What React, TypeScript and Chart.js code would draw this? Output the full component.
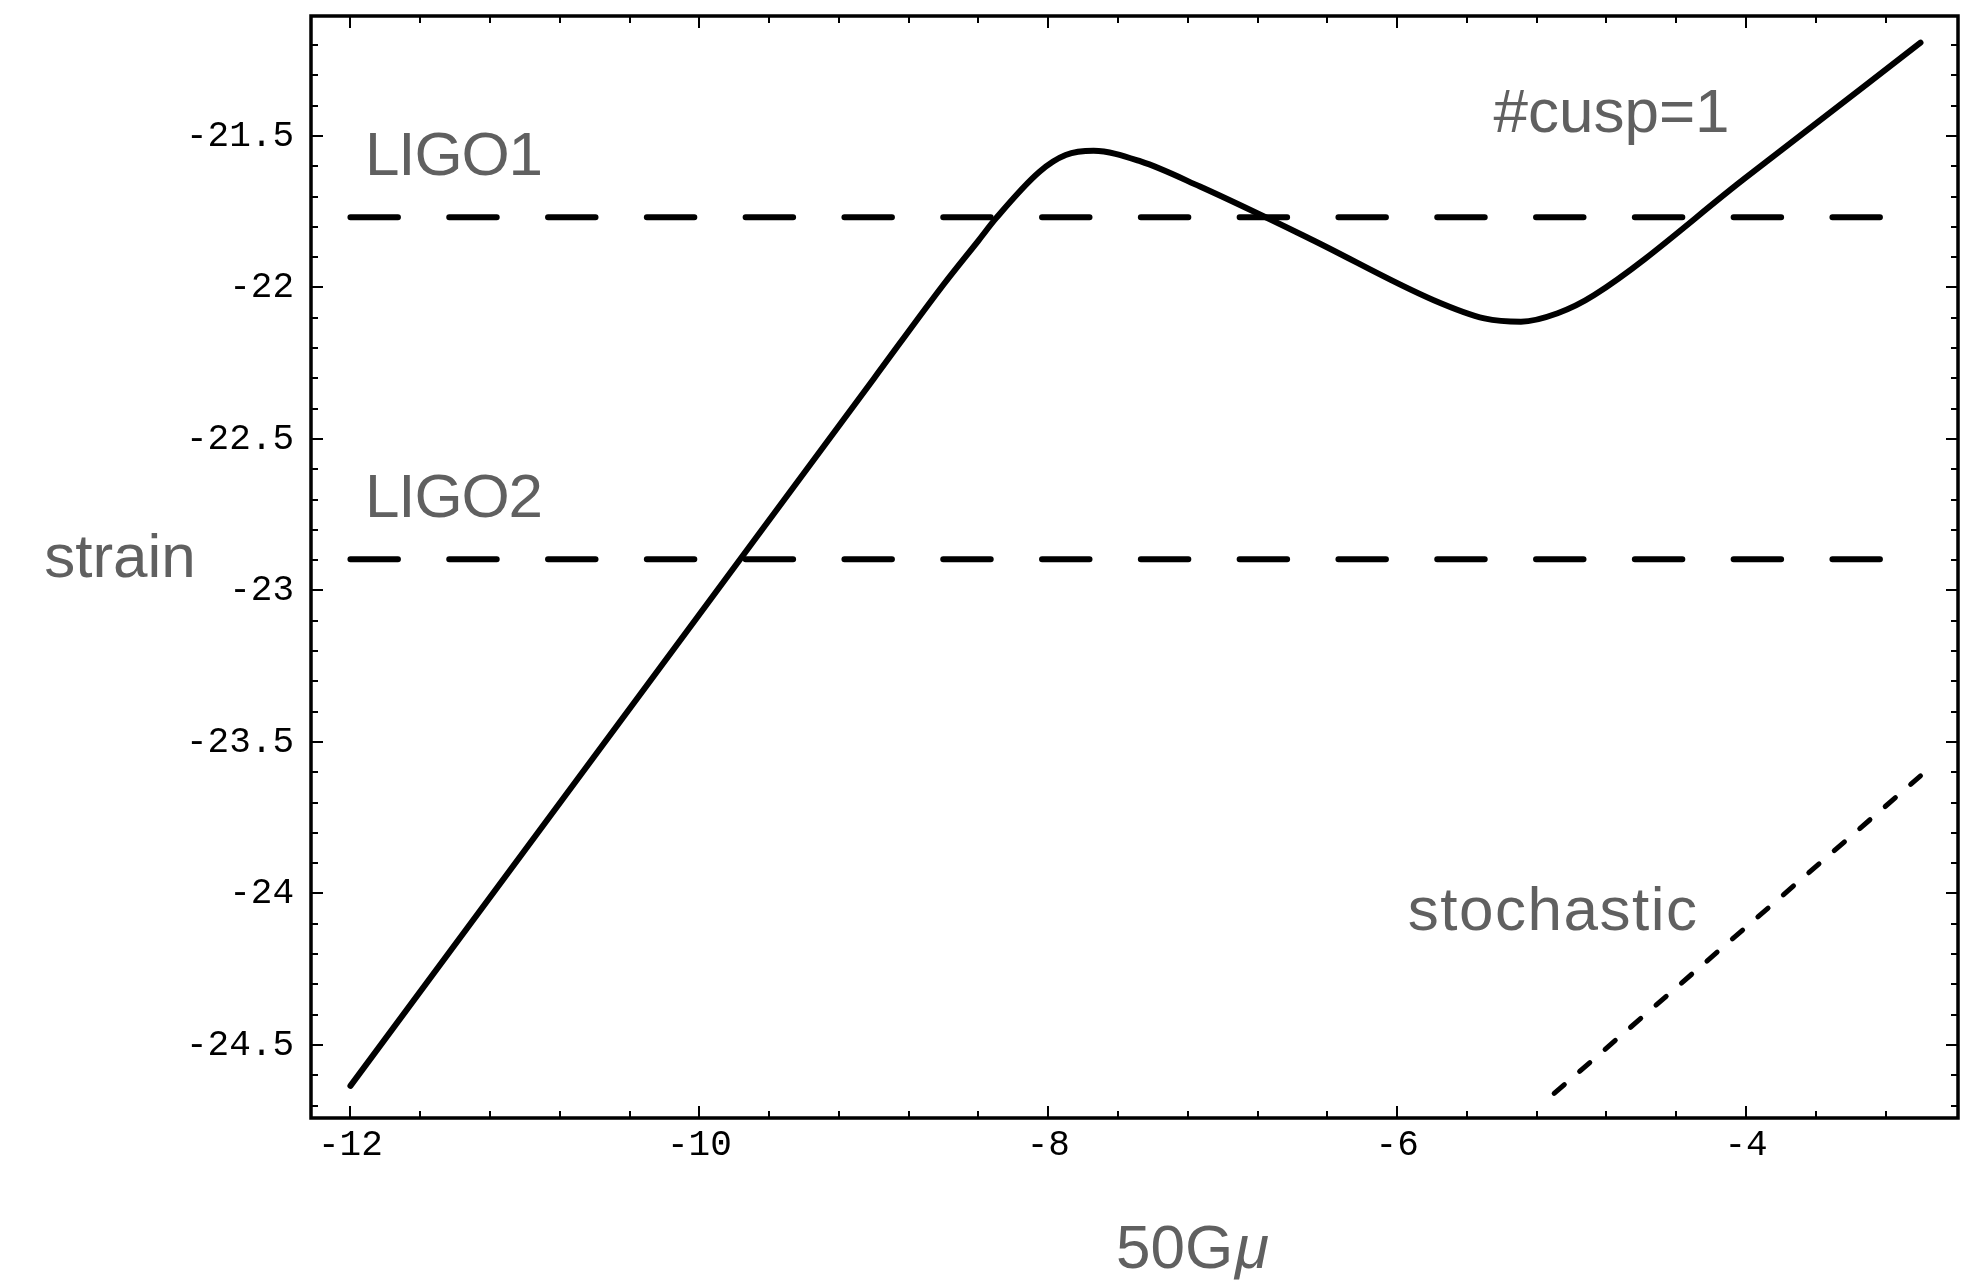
import React, { useEffect, useRef } from 'react';
import { Chart, registerables } from 'chart.js';

Chart.register(...registerables);

// ---- data ----
const mainX = [-12, -10, -9, -8.6, -8.4, -8.3, -8.05, -7.9, -7.74, -7.47, -7.13, -6.5, -5.79, -5.5, -5.29, -5.08, -4.87, -4, -3];
const mainY = [-24.635, -23.079, -22.301, -21.99, -21.845, -21.772, -21.618, -21.563, -21.549, -21.584, -21.667, -21.839, -22.042, -22.102, -22.113, -22.085, -22.025, -21.637, -21.192];

const stochX = [-5.1, -3];
const stochY = [-24.66, -23.612];

const ligoX = [-12, -3];
const ligo1Y = [-21.768, -21.768];
const ligo2Y = [-22.897, -22.897];

const xTickValues = [-12, -10, -8, -6, -4];
const xTickLabels = ['-12', '-10', '-8', '-6', '-4'];
const yTickValues = [-24.5, -24, -23.5, -23, -22.5, -22, -21.5];
const yTickLabels = ['-24.5', '-24', '-23.5', '-23', '-22.5', '-22', '-21.5'];

const xMinorTicks = [-11.6, -11.2, -10.8, -10.4, -9.6, -9.2, -8.8, -8.4, -7.6, -7.2, -6.8, -6.4, -5.6, -5.2, -4.8, -4.4, -3.6, -3.2];
const yMinorTicks = [
  -24.7, -24.6, -24.4, -24.3, -24.2, -24.1, -23.9, -23.8, -23.7, -23.6,
  -23.4, -23.3, -23.2, -23.1, -22.9, -22.8, -22.7, -22.6, -22.4, -22.3,
  -22.2, -22.1, -21.9, -21.8, -21.7, -21.6, -21.4, -21.3, -21.2,
];

const annotationTexts = ['LIGO1', 'LIGO2', '#cusp=1', 'stochastic'];
const annotationX = [-11.916, -11.916, -5.448, -5.939];
const annotationY = [-21.629, -22.756, -21.486, -24.12];

const xTitleMain = '50G';
const xTitleSymbol = 'μ';
const yTitle = 'strain';

// ---- styling ----
const W = 1977;
const H = 1284;
const GRAY = '#606060';
const LABEL_FONT = "62px 'Liberation Sans', Arial, sans-serif";
const LABEL_FONT_ITALIC = "italic 62px 'Liberation Sans', Arial, sans-serif";
const annotationSpacing = ['-1.2px', '-1.2px', '0px', '1.5px'];
const TICK_FONT_FAMILY = "'Liberation Mono', 'DejaVu Sans Mono', monospace";

const framePlugin = {
  id: 'frameAndText',
  afterDraw(chart: any) {
    const ctx = chart.ctx as CanvasRenderingContext2D;
    const { left, right, top, bottom } = chart.chartArea;
    const xs = chart.scales.x;
    const ys = chart.scales.y;
    ctx.save();
    ctx.strokeStyle = '#000';
    // inward ticks on all four sides
    ctx.lineWidth = 2;
    ctx.lineCap = 'butt';
    const drawX = (v: number, len: number) => {
      const px = Math.round(xs.getPixelForValue(v));
      ctx.beginPath();
      ctx.moveTo(px, bottom);
      ctx.lineTo(px, bottom - len);
      ctx.moveTo(px, top);
      ctx.lineTo(px, top + len);
      ctx.stroke();
    };
    const drawY = (v: number, len: number) => {
      const py = Math.round(ys.getPixelForValue(v));
      ctx.beginPath();
      ctx.moveTo(left, py);
      ctx.lineTo(left + len, py);
      ctx.moveTo(right, py);
      ctx.lineTo(right - len, py);
      ctx.stroke();
    };
    xTickValues.forEach((v) => drawX(v, 12));
    xMinorTicks.forEach((v) => drawX(v, 7));
    yTickValues.forEach((v) => drawY(v, 12));
    yMinorTicks.forEach((v) => drawY(v, 7));
    // frame
    ctx.lineWidth = 3.5;
    ctx.strokeRect(left, top, right - left, bottom - top);

    // annotations
    ctx.fillStyle = GRAY;
    ctx.font = LABEL_FONT;
    ctx.textAlign = 'left';
    ctx.textBaseline = 'alphabetic';
    annotationTexts.forEach((t, i) => {
      (ctx as any).letterSpacing = annotationSpacing[i];
      ctx.fillText(t, xs.getPixelForValue(annotationX[i]), ys.getPixelForValue(annotationY[i]));
    });
    (ctx as any).letterSpacing = '0px';

    // y title (horizontal)
    ctx.textAlign = 'center';
    ctx.fillText(yTitle, left - 191, (top + bottom) / 2 + 10);

    // x title with italic mu
    ctx.textAlign = 'left';
    const mainW = ctx.measureText(xTitleMain).width;
    ctx.font = LABEL_FONT_ITALIC;
    const symW = ctx.measureText(xTitleSymbol).width;
    const startX = (left + right) / 2 + 57 - (mainW + symW) / 2;
    ctx.font = LABEL_FONT;
    ctx.fillText(xTitleMain, startX, bottom + 150);
    ctx.font = LABEL_FONT_ITALIC;
    ctx.fillText(xTitleSymbol, startX + mainW + 2, bottom + 150);
    ctx.restore();
  },
};

export default function App() {
  const canvasRef = useRef<HTMLCanvasElement | null>(null);

  useEffect(() => {
    const canvas = canvasRef.current;
    if (!canvas) return;
    const toPts = (xa: number[], ya: number[]) => xa.map((x, i) => ({ x, y: ya[i] }));
    const chart = new Chart(canvas, {
      type: 'scatter',
      data: {
        datasets: [
          { label: 'LIGO1', data: toPts(ligoX, ligo1Y), showLine: true, borderColor: '#000', borderWidth: 6, borderDash: [47.5, 51.3], borderCapStyle: 'round', pointRadius: 0 },
          { label: 'LIGO2', data: toPts(ligoX, ligo2Y), showLine: true, borderColor: '#000', borderWidth: 6, borderDash: [47.5, 51.3], borderCapStyle: 'round', pointRadius: 0 },
          { label: 'stochastic', data: toPts(stochX, stochY), showLine: true, borderColor: '#000', borderWidth: 5, borderDash: [13.5, 20.2], borderCapStyle: 'round', pointRadius: 0 },
          { label: '#cusp=1', data: toPts(mainX, mainY), showLine: true, borderColor: '#000', borderWidth: 6, borderCapStyle: 'round', borderJoinStyle: 'round', cubicInterpolationMode: 'monotone', pointRadius: 0 },
        ],
      } as any,
      options: {
        animation: false,
        responsive: false,
        devicePixelRatio: 1,
        layout: { padding: { left: 0, right: 19, top: 16, bottom: 0 } },
        plugins: { legend: { display: false }, tooltip: { enabled: false }, title: { display: false } },
        events: [],
        scales: {
          x: {
            type: 'linear', position: 'bottom', min: -12.226, max: -2.785,
            grid: { display: false, drawTicks: false }, border: { display: false },
            afterBuildTicks: (scale: any) => { scale.ticks = xTickValues.map((v) => ({ value: v })); },
            afterFit: (scale: any) => { scale.height = 166; scale.paddingLeft = 0; scale.paddingRight = 0; },
            ticks: {
              autoSkip: false, maxRotation: 0, padding: 6, color: '#000',
              font: { family: TICK_FONT_FAMILY, size: 36 },
              callback: (v: any) => { const i = xTickValues.indexOf(Number(v)); return i >= 0 ? xTickLabels[i] : ''; },
            },
          },
          y: {
            type: 'linear', position: 'left', min: -24.741, max: -21.104,
            grid: { display: false, drawTicks: false }, border: { display: false },
            afterBuildTicks: (scale: any) => { scale.ticks = yTickValues.map((v) => ({ value: v })); },
            afterFit: (scale: any) => { scale.width = 311; scale.paddingTop = 0; scale.paddingBottom = 0; },
            ticks: {
              autoSkip: false, padding: 17, color: '#000',
              font: { family: TICK_FONT_FAMILY, size: 36 },
              callback: (v: any) => { const i = yTickValues.indexOf(Number(v)); return i >= 0 ? yTickLabels[i] : ''; },
            },
          },
        },
      } as any,
      plugins: [framePlugin],
    });
    return () => chart.destroy();
  }, []);

  return (
    <div style={{ position: 'absolute', left: 0, top: 0, width: W, height: H, background: '#fff' }}>
      <canvas ref={canvasRef} width={W} height={H} style={{ display: 'block', width: W, height: H }} />
    </div>
  );
}
